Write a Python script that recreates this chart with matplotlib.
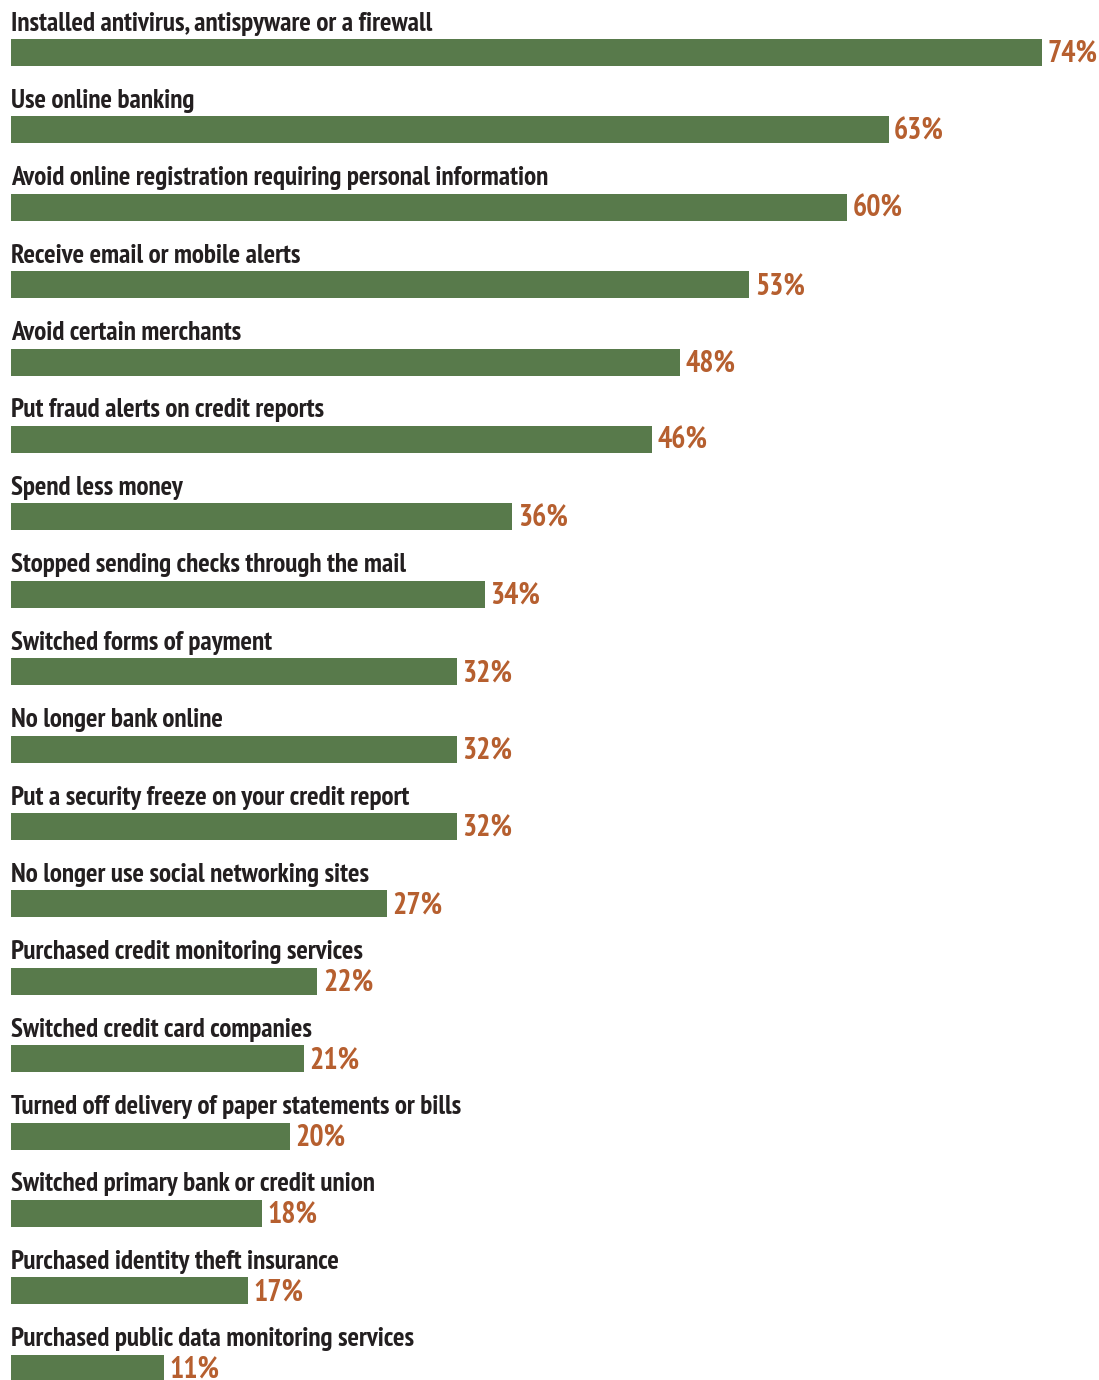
import matplotlib
matplotlib.use("Agg")
import matplotlib.pyplot as plt

categories = [
    "Installed antivirus, antispyware or a firewall",
    "Use online banking",
    "Avoid online registration requiring personal information",
    "Receive email or mobile alerts",
    "Avoid certain merchants",
    "Put fraud alerts on credit reports",
    "Spend less money",
    "Stopped sending checks through the mail",
    "Switched forms of payment",
    "No longer bank online",
    "Put a security freeze on your credit report",
    "No longer use social networking sites",
    "Purchased credit monitoring services",
    "Switched credit card companies",
    "Turned off delivery of paper statements or bills",
    "Switched primary bank or credit union",
    "Purchased identity theft insurance",
    "Purchased public data monitoring services",
]
values = [74, 63, 60, 53, 48, 46, 36, 34, 32, 32, 32, 27, 22, 21, 20, 18, 17, 11]

BAR_COLOR = "#587A4B"
VAL_COLOR = "#B65F2F"
TXT_COLOR = "#231F20"
FAM = ["PT Sans Narrow", "DejaVu Sans"]

W, H = 1099, 1380
fig = plt.figure(figsize=(W / 100, H / 100), dpi=100)
ax = fig.add_axes([0, 0, 1, 1])
px_per_unit = 13.93
left_px = 11
ax.set_xlim(-left_px / px_per_unit, (W - left_px) / px_per_unit)
ax.set_ylim(H, 0)
ax.axis("off")

step = 77.4
first_center = 52.5
bar_h = 27
for i, (cat, v) in enumerate(zip(categories, values)):
    yc = first_center + i * step
    ax.barh(yc, v, height=bar_h, left=0, color=BAR_COLOR, edgecolor="none")
    ax.text(0.0, yc - bar_h / 2 - 8.5, cat, ha="left", va="baseline",
            fontsize=19.5, fontweight="bold", family=FAM, color=TXT_COLOR)
    ax.text(v + 0.4, yc + 9.5, f"{v}%", ha="left", va="baseline",
            fontsize=21.5, fontweight="bold", family=FAM, color=VAL_COLOR)

fig.savefig("out.png", dpi=100)
